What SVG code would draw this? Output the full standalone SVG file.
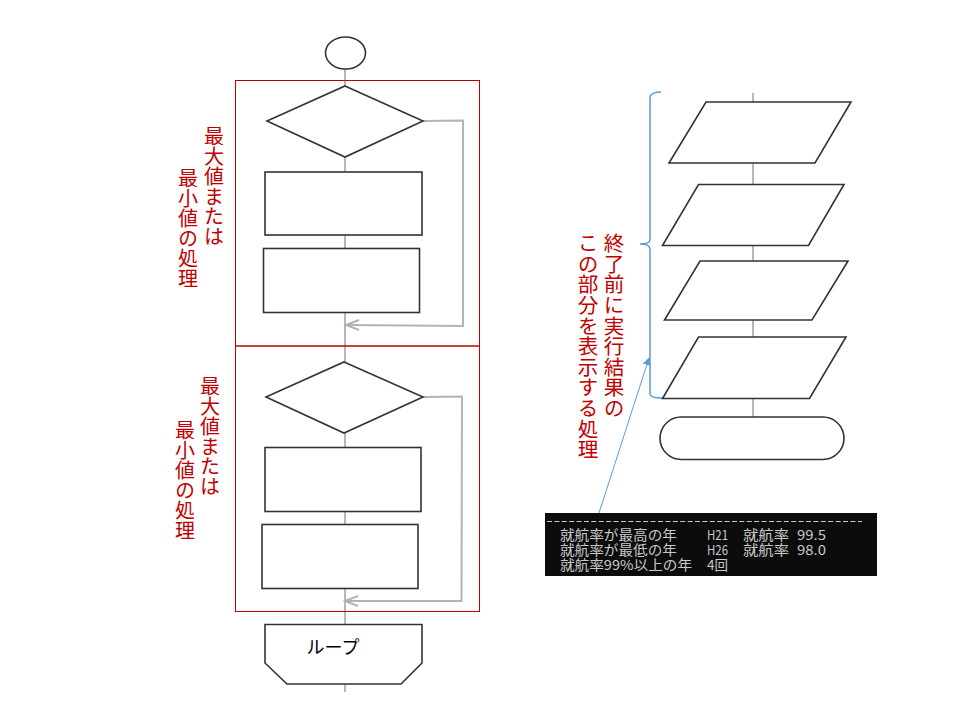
<svg xmlns="http://www.w3.org/2000/svg" width="960" height="720" viewBox="0 0 960 720">
<style>
.sh{fill:#fff;stroke:#333;stroke-width:1.6}
.ln{fill:none;stroke:#a6a6a6;stroke-width:1.6}
.rt{fill:none;stroke:#b4b4b4;stroke-width:2}
.rb{fill:none;stroke:#c00000;stroke-width:1}
.vt{font-family:"Noto Sans CJK JP","Noto Sans CJK SC",sans-serif;fill:#c00000;writing-mode:vertical-rl;font-size:20px}
.ct{font-family:"Noto Sans CJK JP",sans-serif;fill:#c8c8c8;font-size:13.5px}
</style>
<defs>
<marker id="ah" viewBox="0 0 10 10" refX="9" refY="5" markerWidth="8" markerHeight="8" orient="auto" markerUnits="userSpaceOnUse">
<path d="M0,0 L10,5 L0,10 z" fill="#5b9bd5"/>
</marker>
</defs>
<rect width="960" height="720" fill="#fff"/>

<g id="connectors">
<line class="ln" x1="345" y1="69" x2="345" y2="692"/>
<line class="ln" x1="753" y1="93" x2="753" y2="417"/>
<polyline class="rt" points="423,121 463,120.5 463,326 346,325"/>
<polyline class="rt" points="359,320 346,325 359,330"/>
<polyline class="rt" points="423,397 462,396.5 461.5,601 345,601"/>
<polyline class="rt" points="358,596 345,601 358,606"/>
<path d="M661,92 Q651,92 650,97 L650,240 Q650,244 640,244 Q650,244 650,249 L650,394 Q650,398 662,398" fill="none" stroke="#5b9bd5" stroke-width="1.5"/>
<line x1="599" y1="513" x2="649" y2="358" stroke="#5b9bd5" stroke-width="1" marker-end="url(#ah)"/>
</g>

<g id="region1"><rect class="rb" x="235.5" y="80.5" width="244" height="265.5"/></g>
<g id="region2"><rect class="rb" x="235.5" y="346" width="244" height="265.5"/></g>

<g id="start"><ellipse class="sh" cx="345.5" cy="53" rx="20" ry="16"/></g>
<g id="decision1"><polygon class="sh" points="345,86 423,121 345,157 267,121"/></g>
<g id="process1"><rect class="sh" x="265" y="172" width="157" height="63"/></g>
<g id="process2"><rect class="sh" x="263.5" y="248.5" width="156" height="64"/></g>
<g id="decision2"><polygon class="sh" points="344,362 423,397 344,433 266,397"/></g>
<g id="process3"><rect class="sh" x="265" y="447.5" width="156" height="64"/></g>
<g id="process4"><rect class="sh" x="262" y="524.5" width="156" height="64"/></g>
<g id="loopend">
<polygon class="sh" points="265,624.5 422,624.5 422,663 401,684 287,684 265,663"/>
<text x="333" y="654" font-family="'Noto Sans CJK JP',sans-serif" font-size="18" text-anchor="middle" fill="#000">ループ</text>
</g>

<g id="label1">
<text class="vt" x="214" y="126">最大値または</text>
<text class="vt" x="188" y="168">最小値の処理</text>
</g>
<g id="label2">
<text class="vt" x="210" y="376">最大値または</text>
<text class="vt" x="185" y="420">最小値の処理</text>
</g>

<g id="output1"><polygon class="sh" points="706,102 851,102 815,163 669,163"/></g>
<g id="output2"><polygon class="sh" points="698.5,184.5 844,184.5 808.5,245.5 662.5,245.5"/></g>
<g id="output3"><polygon class="sh" points="700,261 848,261 812,320 664.5,320"/></g>
<g id="output4"><polygon class="sh" points="698.5,337 846,337 809.5,398.5 662.5,398.5"/></g>
<g id="end"><rect class="sh" x="660" y="417" width="184" height="42.5" rx="21.25"/></g>

<g id="label3">
<text class="vt" x="614" y="233" style="font-size:20.6px">終了前に実行結果の</text>
<text class="vt" x="588" y="233" style="font-size:20.6px">この部分を表示する処理</text>
</g>

<g id="console">
<rect x="545" y="513" width="332" height="63" fill="#0c0c0c"/>
<line x1="547" y1="521.5" x2="862" y2="521.5" stroke="#c8c8c8" stroke-width="1" stroke-dasharray="5,2.4"/>
<text class="ct" x="560" y="540" textLength="117" lengthAdjust="spacingAndGlyphs">就航率が最高の年</text>
<text class="ct" x="707" y="540" textLength="21" lengthAdjust="spacingAndGlyphs">H21</text>
<text class="ct" x="743" y="540" textLength="46" lengthAdjust="spacingAndGlyphs">就航率</text>
<text class="ct" x="797" y="540" textLength="29" lengthAdjust="spacingAndGlyphs">99.5</text>
<text class="ct" x="560" y="555" textLength="117" lengthAdjust="spacingAndGlyphs">就航率が最低の年</text>
<text class="ct" x="707" y="555" textLength="21" lengthAdjust="spacingAndGlyphs">H26</text>
<text class="ct" x="743" y="555" textLength="46" lengthAdjust="spacingAndGlyphs">就航率</text>
<text class="ct" x="797" y="555" textLength="29" lengthAdjust="spacingAndGlyphs">98.0</text>
<text class="ct" x="560" y="570" textLength="132" lengthAdjust="spacingAndGlyphs">就航率99%以上の年</text>
<text class="ct" x="707" y="570" textLength="21" lengthAdjust="spacingAndGlyphs">4回</text>
</g>
</svg>
